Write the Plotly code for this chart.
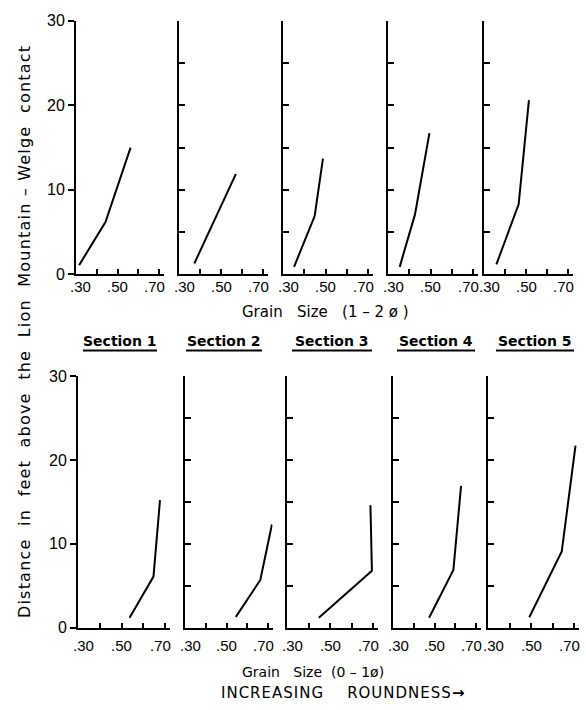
import plotly.graph_objects as go

# ---------------- data ----------------
sections = ["Section 1", "Section 2", "Section 3", "Section 4", "Section 5"]

# Grain size (1-2 phi) -- upper row
top_x = [
    [0.315, 0.442, 0.563],
    [0.373, 0.460, 0.571],
    [0.352, 0.449, 0.488],
    [0.355, 0.427, 0.495],
    [0.359, 0.465, 0.514],
]
top_y = [
    [1.1, 6.2, 15.0],
    [1.3, 6.0, 11.9],
    [0.9, 6.9, 13.7],
    [0.9, 7.1, 16.7],
    [1.2, 8.3, 20.6],
]

# Grain size (0-1 phi) -- lower row
bot_x = [
    [0.537, 0.647, 0.677],
    [0.545, 0.663, 0.719],
    [0.448, 0.695, 0.688],
    [0.474, 0.591, 0.628],
    [0.492, 0.643, 0.707],
]
bot_y = [
    [1.2, 6.1, 15.2],
    [1.3, 5.7, 12.3],
    [1.2, 6.8, 14.6],
    [1.2, 6.9, 16.9],
    [1.25, 9.1, 21.7],
]

x_tickvals = [0.30, 0.40, 0.50, 0.60, 0.70]
x_labelvals = [0.30, 0.50, 0.70]
x_labeltext = [".30", ".50", ".70"]
y_major = [0, 10, 20, 30]
y_minor = [0, 5, 10, 15, 20, 25, 30]

# ---------------- layout geometry (pixels) ----------------
W, H = 586, 710
FONT = "DejaVu Sans"
TFONT = "Liberation Sans"
XMAX = 0.722
label_shift = [5, 0, -5]

top_left = [76, 179, 283, 388, 484]
top_r70 = [159, 263, 368, 473, 568]
bot_left = [78, 185, 287, 393, 488]
bot_r70 = [165, 268, 373, 476, 574]
rows = [
    (top_left, top_r70, 273, 13, top_x, top_y, 285),
    (bot_left, bot_r70, 635, 377, bot_x, bot_y, 653),
]

fig = go.Figure()
layout = dict(
    width=W, height=H, margin=dict(l=0, r=0, t=0, b=0),
    paper_bgcolor="white", plot_bgcolor="white", showlegend=False,
    font=dict(family=FONT, color="black"),
)
annotations = []

k = 0
for r, (lefts, r70s, ybot, ytop, xs, ys, ylab) in enumerate(rows):
    for i in range(5):
        k += 1
        xa = "xaxis" if k == 1 else f"xaxis{k}"
        ya = "yaxis" if k == 1 else f"yaxis{k}"
        xr = "x" if k == 1 else f"x{k}"
        yr = "y" if k == 1 else f"y{k}"
        L = lefts[i]
        R = L + (r70s[i] - L) * (XMAX - 0.30) / 0.40
        layout[xa] = dict(
            domain=[L / W, R / W], range=[0.30, XMAX], anchor=yr,
            showgrid=False, zeroline=False, showline=True, linecolor="black",
            linewidth=2, ticks="inside", ticklen=5, tickwidth=2, tickcolor="black",
            tickvals=x_tickvals, showticklabels=False,
            fixedrange=True,
        )
        first = (i == 0)
        layout[ya] = dict(
            domain=[1 - ybot / H, 1 - ytop / H], range=[0, 30], anchor=xr,
            showgrid=False, zeroline=False, showline=True, linecolor="black",
            linewidth=2, ticks="outside" if first else "inside", ticklen=6,
            tickwidth=2, tickcolor="black",
            tickvals=y_major if first else y_minor,
            showticklabels=first,
            tickfont=dict(size=16, family=TFONT, color="black"),
            fixedrange=True,
        )
        fig.add_trace(go.Scatter(
            x=xs[i], y=ys[i], mode="lines", xaxis=xr, yaxis=yr,
            line=dict(color="black", width=2), hoverinfo="skip",
        ))
        for j, (v, t) in enumerate(zip(x_labelvals, x_labeltext)):
            annotations.append(dict(
                text=t, x=v, xref=xr, y=1 - ylab / H, yref="paper",
                showarrow=False, xanchor="center", yanchor="middle",
                xshift=label_shift[j],
                font=dict(size=15, family=TFONT, color="black"),
            ))

# Section titles with underlines
sec_cx = [120, 224, 332, 436, 535]
sec_half = [37, 38, 40, 39, 39]
shapes = []
for i, s in enumerate(sections):
    annotations.append(dict(
        text=f"<b>{s}</b>", x=sec_cx[i] / W, y=1 - 341 / H, xref="paper", yref="paper",
        showarrow=False, xanchor="center", yanchor="middle",
        font=dict(size=14, family=FONT, color="black"),
    ))
    shapes.append(dict(
        type="line", xref="paper", yref="paper",
        x0=(sec_cx[i] - sec_half[i]) / W, x1=(sec_cx[i] + sec_half[i]) / W,
        y0=1 - 351 / H, y1=1 - 351 / H, line=dict(color="black", width=2),
    ))

sp = "\u00a0"
g = sp * 3


def spaced(txt, ls):
    return f'<span style="letter-spacing:{ls}px">{txt}</span>'


annotations += [
    dict(text=f"Grain{g}Size{g}(1{sp}–{sp}2{sp}ø{sp})", x=326 / W, y=1 - 311 / H,
         xref="paper", yref="paper", showarrow=False, yanchor="middle",
         font=dict(size=15, family=FONT, color="black")),
    dict(text=f"Grain{g}Size{sp}{sp}(0{sp}–{sp}1ø)", x=313 / W, y=1 - 680 / H,
         xref="paper", yref="paper", showarrow=False, yanchor="middle",
         font=dict(size=14, family=FONT, color="black")),
    dict(text=spaced(f"INCREASING{sp * 4}ROUNDNESS", 1) + "<b>→</b>",
         x=342 / W, y=1 - 702 / H,
         xref="paper", yref="paper", showarrow=False, yanchor="middle",
         font=dict(size=15, family=FONT, color="black")),
]
g2 = sp * 2
annotations.append(dict(
    text=spaced(f"Distance{g2}in{g2}feet{g2}above{g2}the{g2}Lion{g2}"
                f"Mountain{sp}–{sp}Welge{g2}contact", 1.2),
    x=24 / W, y=1 - 332 / H, xref="paper", yref="paper", showarrow=False,
    textangle=-90, xanchor="center", yanchor="middle",
    font=dict(size=16, family=FONT, color="black")))

layout["annotations"] = annotations
layout["shapes"] = shapes
fig.update_layout(**layout)
fig.write_html("out.html")
